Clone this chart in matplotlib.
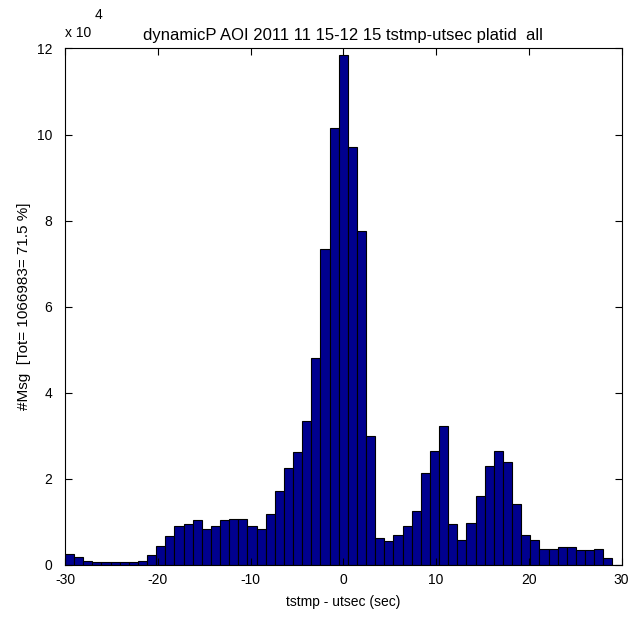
import numpy as np
import matplotlib
matplotlib.use("Agg")
import matplotlib.pyplot as plt
from matplotlib.ticker import FuncFormatter

# histogram of tstmp - utsec, 61 bins over [-30, 30]
x_min, x_max = -30, 30
counts_1e4 = [
    0.24, 0.19, 0.09, 0.06, 0.06, 0.06, 0.06, 0.06, 0.09, 0.23,
    0.44, 0.67, 0.91, 0.94, 1.03, 0.84, 0.91, 1.03, 1.07, 1.07,
    0.91, 0.84, 1.19, 1.72, 2.25, 2.63, 3.34, 4.81, 7.33, 10.16,
    11.85, 9.70, 7.76, 3.00, 0.63, 0.56, 0.70, 0.89, 1.25, 2.13,
    2.64, 3.22, 0.94, 0.57, 0.98, 1.60, 2.29, 2.64, 2.38, 1.42,
    0.69, 0.57, 0.37, 0.37, 0.41, 0.41, 0.34, 0.34, 0.37, 0.16,
    0.00,
]
counts = np.array(counts_1e4) * 1e4
x_ticks = [-30, -20, -10, 0, 10, 20, 30]
y_ticks = [0, 2e4, 4e4, 6e4, 8e4, 10e4, 12e4]

title = "dynamicP AOI 2011 11 15-12 15 tstmp-utsec platid  all"
xlabel = "tstmp - utsec (sec)"
ylabel = "#Msg  [Tot= 1066983= 71.5 %]"

plt.rcParams["font.family"] = ["Liberation Sans", "DejaVu Sans"]
plt.rcParams["font.size"] = 10
plt.rcParams["axes.unicode_minus"] = False

nbins = len(counts)
width = (x_max - x_min) / nbins
centers = x_min + width * (np.arange(nbins) + 0.5)

fig = plt.figure(figsize=(6.31, 6.19), dpi=100)
ax = fig.add_axes([0.103, 0.0877, 0.882, 0.834])

ax.bar(centers, counts, width=width, color="#00008F", edgecolor="black",
       linewidth=0.8)

ax.set_xlim(x_min, x_max)
ax.set_ylim(0, 12e4)
ax.set_xticks(x_ticks)
ax.set_yticks(y_ticks)
ax.yaxis.set_major_formatter(FuncFormatter(lambda v, p: f"{v / 1e4:g}"))
ax.tick_params(direction="in", top=True, right=True, length=5, width=0.8,
               labelsize=10)
ax.tick_params(axis="x", pad=6)
ax.tick_params(axis="y", pad=9)
for s in ax.spines.values():
    s.set_linewidth(0.8)

ax.set_title(title, fontsize=12, pad=6)
ax.set_xlabel(xlabel, fontsize=10, labelpad=6)
ax.set_ylabel(ylabel, fontsize=11, labelpad=4)

# MATLAB-style exponent label
fig.text(65 / 631, 1 - 33 / 619, "x 10", fontsize=10, ha="left", va="center")
fig.text(95 / 631, 1 - 15 / 619, "4", fontsize=10, ha="left", va="center")

fig.savefig("out.png", dpi=100, facecolor="white")
